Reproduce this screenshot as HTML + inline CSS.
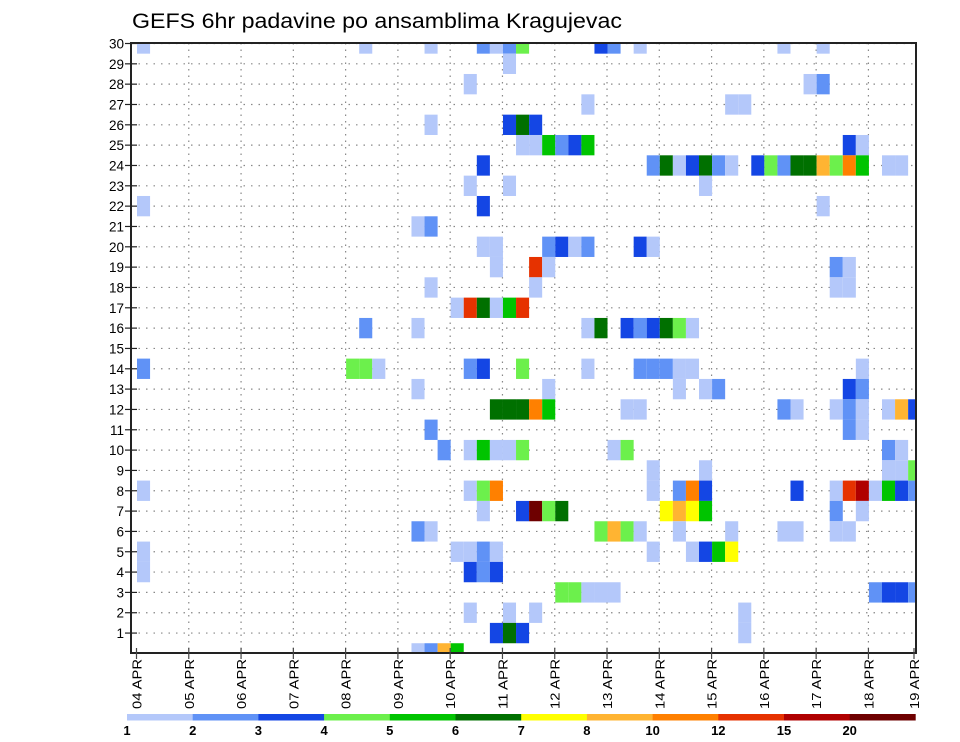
<!DOCTYPE html>
<html><head><meta charset="utf-8"><title>GEFS 6hr padavine po ansamblima Kragujevac</title>
<style>html,body{margin:0;padding:0;background:#fff;}svg{display:block;font-family:"Liberation Sans",sans-serif;}</style>
</head><body>
<svg id="chart" width="960" height="742" viewBox="0 0 960 742">
<text x="132" y="28" font-size="21" textLength="490" lengthAdjust="spacingAndGlyphs" fill="#000">GEFS 6hr padavine po ansamblima Kragujevac</text>
<g id="grid"></g>
<g id="cells"></g>
<rect x="131" y="43" width="785" height="610" fill="none" stroke="#222" stroke-width="2"/>
<g id="yaxis"></g>
<g id="xaxis"></g>
<g id="legend"></g>
</svg>
<script>
// ---- data ----
const dayLabels = ["04 APR","05 APR","06 APR","07 APR","08 APR","09 APR","10 APR","11 APR","12 APR","13 APR","14 APR","15 APR","16 APR","17 APR","18 APR","19 APR"];
const memberTicks = [1,2,3,4,5,6,7,8,9,10,11,12,13,14,15,16,17,18,19,20,21,22,23,24,25,26,27,28,29,30];
const levelValues = [1,2,3,4,5,6,7,8,10,12,15,20];
const levelLabels = ["1","2","3","4","5","6","7","8","10","12","15","20"];
const levelColors = ["#b4c8fa","#6092f6","#1446e4","#6cf04c","#00c400","#007000","#ffff00","#ffb432","#ff8000","#e63200","#b00000","#6e0000"];
// per member: [step, mm] (step = 6-hour index from 04 APR 00z)
const row30 = [[0,1.5],[17,1.5],[22,1.5],[26,2.5],[27,1.5],[28,2.5],[29,4.5],[35,3.5],[36,2.5],[38,1.5],[49,1.5],[52,1.5]];
const row29 = [[28,1.5]];
const row28 = [[25,1.5],[51,1.5],[52,2.5]];
const row27 = [[34,1.5],[45,1.5],[46,1.5]];
const row26 = [[22,1.5],[28,3.5],[29,6.5],[30,3.5]];
const row25 = [[29,1.5],[30,1.5],[31,5.5],[32,2.5],[33,3.5],[34,5.5],[54,3.5],[55,1.5]];
const row24 = [[26,3.5],[39,2.5],[40,6.5],[41,1.5],[42,3.5],[43,6.5],[44,2.5],[45,1.5],[47,3.5],[48,4.5],[49,2.5],[50,6.5],[51,6.5],[52,9],[53,4.5],[54,11],[55,5.5],[57,1.5],[58,1.5]];
const row23 = [[25,1.5],[28,1.5],[43,1.5]];
const row22 = [[0,1.5],[26,3.5],[52,1.5]];
const row21 = [[21,1.5],[22,2.5]];
const row20 = [[26,1.5],[27,1.5],[31,2.5],[32,3.5],[33,1.5],[34,2.5],[38,3.5],[39,1.5]];
const row19 = [[27,1.5],[30,13.5],[31,1.5],[53,2.5],[54,1.5]];
const row18 = [[22,1.5],[30,1.5],[53,1.5],[54,1.5]];
const row17 = [[24,1.5],[25,13.5],[26,6.5],[27,1.5],[28,5.5],[29,13.5]];
const row16 = [[17,2.5],[21,1.5],[34,1.5],[35,6.5],[37,3.5],[38,2.5],[39,3.5],[40,6.5],[41,4.5],[42,1.5]];
const row15 = [];
const row14 = [[0,2.5],[16,4.5],[17,4.5],[18,1.5],[25,2.5],[26,3.5],[29,4.5],[34,1.5],[38,2.5],[39,2.5],[40,2.5],[41,1.5],[42,1.5],[55,1.5]];
const row13 = [[21,1.5],[31,1.5],[41,1.5],[43,1.5],[44,2.5],[54,3.5],[55,2.5]];
const row12 = [[27,6.5],[28,6.5],[29,6.5],[30,11],[31,5.5],[37,1.5],[38,1.5],[49,2.5],[50,1.5],[53,1.5],[54,2.5],[55,1.5],[57,1.5],[58,9],[59,3.5]];
const row11 = [[22,2.5],[54,2.5],[55,1.5]];
const row10 = [[23,2.5],[25,1.5],[26,5.5],[27,1.5],[28,1.5],[29,4.5],[36,1.5],[37,4.5],[57,2.5],[58,1.5]];
const row9  = [[39,1.5],[43,1.5],[57,1.5],[58,1.5],[59,4.5]];
const row8  = [[0,1.5],[25,1.5],[26,4.5],[27,11],[39,1.5],[41,2.5],[42,11],[43,3.5],[50,3.5],[53,1.5],[54,13.5],[55,17.5],[56,1.5],[57,5.5],[58,3.5],[59,2.5]];
const row7  = [[26,1.5],[29,3.5],[30,25],[31,4.5],[32,6.5],[40,7.5],[41,9],[42,7.5],[43,5.5],[53,2.5],[55,1.5]];
const row6  = [[21,2.5],[22,1.5],[35,4.5],[36,9],[37,4.5],[38,1.5],[41,1.5],[45,1.5],[49,1.5],[50,1.5],[53,1.5],[54,1.5]];
const row5  = [[0,1.5],[24,1.5],[25,1.5],[26,2.5],[27,1.5],[39,1.5],[42,1.5],[43,3.5],[44,5.5],[45,7.5]];
const row4  = [[0,1.5],[25,3.5],[26,2.5],[27,3.5]];
const row3  = [[32,4.5],[33,4.5],[34,1.5],[35,1.5],[36,1.5],[56,2.5],[57,3.5],[58,3.5],[59,2.5]];
const row2  = [[25,1.5],[28,1.5],[30,1.5],[46,1.5]];
const row1  = [[27,3.5],[28,6.5],[29,3.5],[46,1.5]];
const row0  = [[21,1.5],[22,2.5],[23,9],[24,5.5]];
const memberRows = [[30,row30],[29,row29],[28,row28],[27,row27],[26,row26],[25,row25],[24,row24],[23,row23],[22,row22],[21,row21],[20,row20],[19,row19],[18,row18],[17,row17],[16,row16],[15,row15],[14,row14],[13,row13],[12,row12],[11,row11],[10,row10],[9,row9],[8,row8],[7,row7],[6,row6],[5,row5],[4,row4],[3,row3],[2,row2],[1,row1],[0,row0]];

// ---- scales ----
const NS="http://www.w3.org/2000/svg";
const PL=131, PR=916, PT=43, PB=653;
const X0=137, STEP_W=13.07, DAY_W=52.28, DAY0=136.5;
function yGrid(r){ return 43.5 + (30 - r) * 20.33; }
function xStep(s){ return X0 + s * STEP_W; }
function xDay(d){ return DAY0 + d * DAY_W; }
function colorFor(v){ let c=null; for(let i=0;i<levelValues.length;i++){ if(v>=levelValues[i]) c=levelColors[i]; } return c; }
function mk(tag, attrs, parent){ const e=document.createElementNS(NS,tag); for(const k in attrs) e.setAttribute(k,attrs[k]); parent.appendChild(e); return e; }

// ---- grid ----
const grid=document.getElementById('grid');
for(const r of memberTicks){
  const l=mk('line',{x1:PL,x2:PR,y1:yGrid(r),y2:yGrid(r),stroke:'#888','stroke-width':1.2,'stroke-dasharray':'1.5 6'},grid);
  
  
}
for(let d=1; d<dayLabels.length-1; d++){
  const l=mk('line',{x1:xDay(d),x2:xDay(d),y1:PT,y2:PB,stroke:'#888','stroke-width':1.2,'stroke-dasharray':'1.5 5'},grid);
  
  
}

// ---- cells ----
const cells=document.getElementById('cells');
for(const [m, list] of memberRows){
  for(const [s, v] of list){
    const cy=yGrid(m);
    const y1=Math.max(PT, cy-10.17), y2=Math.min(PB, cy+10.17);
    const x1=xStep(s), x2=Math.min(PR, xStep(s+1));
    const rc=mk('rect',{x:x1,y:y1,width:x2-x1,height:y2-y1,fill:colorFor(v)},cells);
    
    
  }
}

// ---- y axis ----
const yaxis=document.getElementById('yaxis');
for(const r of memberTicks){
  const y=yGrid(r);
  const t=mk('line',{x1:125,x2:137,y1:y,y2:y,stroke:'#222','stroke-width':1.2},yaxis);
  
  
  const tx=mk('text',{x:124,y:y+5,'font-size':13.5,'text-anchor':'end',fill:'#000'},yaxis);
  tx.textContent=String(r);
  
  
}

// ---- x axis ----
const xaxis=document.getElementById('xaxis');
for(let d=0; d<dayLabels.length; d++){
  const x=Math.min(xDay(d), 914);
  const t=mk('line',{x1:x,x2:x,y1:PB-5,y2:PB+6,stroke:'#444','stroke-width':1.2},xaxis);
  
  
  const tx=mk('text',{x:0,y:0,'font-size':13,'text-anchor':'end',fill:'#000',textLength:50,lengthAdjust:'spacingAndGlyphs',transform:'translate('+(x+5)+',659) rotate(-90)'},xaxis);
  tx.textContent=dayLabels[d];
  
  
}

// ---- legend ----
const legend=document.getElementById('legend');
const LX=127, LW=65.7;
for(let i=0;i<levelColors.length;i++){
  const r=mk('rect',{x:LX+i*LW,y:714,width:LW+0.3,height:6.5,fill:levelColors[i]},legend);
  
  
  const t=mk('text',{x:LX+i*LW,y:735,'font-size':13,'font-weight':'bold','text-anchor':'middle',fill:'#000'},legend);
  t.textContent=levelLabels[i];
  
  
}
</script>
</body></html>
